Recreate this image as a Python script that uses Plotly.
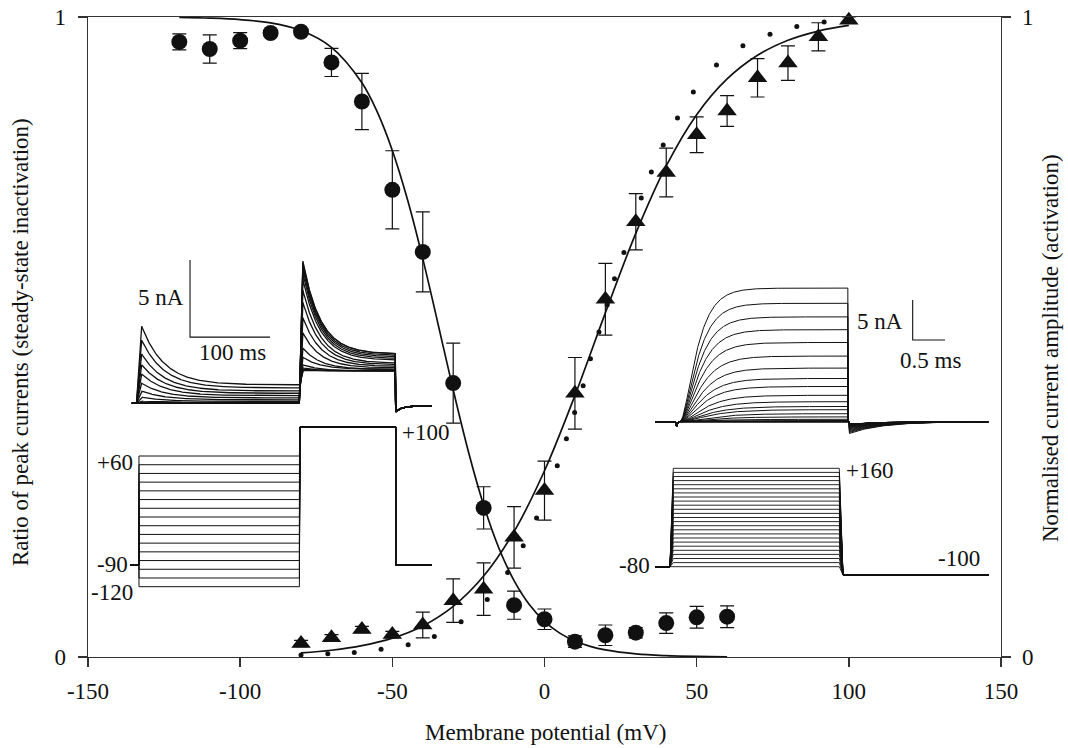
import numpy as np
import plotly.graph_objects as go

# ---------------- main chart data ----------------
inact_mv = [-120, -110, -100, -90, -80, -70, -60, -50, -40, -30, -20, -10, 0, 10, 20, 30, 40, 50, 60]
inact_ratio = [0.961, 0.950, 0.963, 0.975, 0.977, 0.929, 0.868, 0.730, 0.633, 0.428, 0.233, 0.081,
               0.059, 0.024, 0.034, 0.038, 0.053, 0.062, 0.063]
inact_err = [0.0125, 0.022, 0.0125, 0.005, 0.005, 0.022, 0.044, 0.061, 0.0625, 0.0625, 0.033, 0.022,
             0.016, 0.009, 0.016, 0.008, 0.016, 0.017, 0.017]

act_mv = [-80, -70, -60, -50, -40, -30, -20, -10, 0, 10, 20, 30, 40, 50, 60, 70, 80, 90, 100]
act_amp = [0.021, 0.030, 0.043, 0.035, 0.050, 0.088, 0.106, 0.187, 0.260, 0.412, 0.559, 0.680,
           0.757, 0.816, 0.853, 0.905, 0.928, 0.969, 0.995]
act_err = [0.005, 0.005, 0.005, 0.005, 0.020, 0.034, 0.041, 0.048, 0.046, 0.056, 0.056, 0.044,
           0.038, 0.028, 0.024, 0.030, 0.027, 0.022, 0.005]

dots_mv = [-80.0, -71.2, -62.5, -53.7, -44.8, -36.2, -27.4, -18.8, -12.1, -7.0, -2.6, 4.2, 7.2, 9.9,
           12.7, 15.1, 17.9, 20.6, 23.0, 26.1, 31.8, 35.1, 39.0, 43.7, 48.9, 56.5, 65.2, 74.1, 82.9, 91.9]
dots_amp = [0.003, 0.005, 0.007, 0.012, 0.019, 0.032, 0.055, 0.090, 0.132, 0.174, 0.217, 0.299, 0.341,
            0.382, 0.424, 0.466, 0.508, 0.550, 0.591, 0.632, 0.717, 0.758, 0.800, 0.842, 0.883, 0.925,
            0.955, 0.973, 0.985, 0.992]

inact_fit_mv = [-120, -110, -100, -90, -80, -70, -60, -55, -50, -45, -40, -35, -30, -25, -20, -15, -10,
                -5, 0, 5, 10, 15, 20, 30, 40, 50, 60]
inact_fit = [0.9992, 0.9982, 0.9959, 0.9907, 0.9788, 0.9526, 0.8972, 0.852, 0.7914, 0.7144, 0.6225,
             0.5208, 0.4174, 0.3208, 0.2375, 0.1703, 0.1192, 0.0819, 0.0556, 0.0373, 0.0249, 0.0166,
             0.0110, 0.0048, 0.0021, 0.0009, 0.0004]

act_fit_mv = [-80, -70, -60, -50, -40, -30, -20, -10, 0, 10, 20, 30, 40, 50, 60, 70, 80, 90, 100]
act_fit = [0.0063, 0.0106, 0.0177, 0.0294, 0.0486, 0.0792, 0.1265, 0.1960, 0.2910, 0.4086, 0.5377,
           0.6619, 0.7673, 0.8474, 0.9032, 0.9402, 0.9636, 0.9780, 0.9868]

x_ticks = [-150, -100, -50, 0, 50, 100, 150]
x_tick_text = ["-150", "-100", "-50", "0", "50", "100", "150"]
y_ticks = [0, 1]
y_tick_text = ["0", "1"]
x_title = "Membrane potential (mV)"
y_title_left = "Ratio of peak currents (steady-state inactivation)"
y_title_right = "Normalised current amplitude (activation)"

# ---------------- inset data (illustrative recordings) ----------------
# left: inactivation protocol (prepulse sweeps, index 0 = -120 mV ... 15 = +60 mV)
L_PRE_MV = [-120, -108, -96, -84, -72, -60, -48, -36, -24, -12, 0, 12, 24, 36, 48, 60]
L_PRE_PEAK = [0, 0, 0, 0, 0, 0, 0.05, 0.15, 0.4, 0.8, 1.3, 1.9, 2.5, 3.2, 4.1, 5.0]
L_PRE_SS = [0, 0, 0, 0, 0, 0, 0.02, 0.05, 0.12, 0.22, 0.35, 0.5, 0.65, 0.8, 1.0, 1.2]
L_TEST_TR = [6.1, 6.0, 5.9, 5.8, 5.6, 5.3, 4.8, 4.1, 3.2, 2.3, 1.4, 0.8, 0.4, 0.2, 0.1, 0.05]
L_TEST_SS = [3.2, 3.2, 3.1, 3.0, 2.9, 2.8, 2.6, 2.5, 2.4, 2.3, 2.2, 2.2, 2.1, 2.1, 2.1, 2.1]
L_HOLD_MV, L_TEST_MV = -90, 100
# right: activation protocol (steps, index 0 = -80 mV ... 24 = +160 mV)
R_STEP_MV = [-80, -70, -60, -50, -40, -30, -20, -10, 0, 10, 20, 30, 40, 50, 60, 70, 80, 90, 100,
             110, 120, 130, 140, 150, 160]
R_AMP = [0, 0, 0, 0, 0, 0.02, 0.05, 0.1, 0.15, 0.3, 0.6, 1.0, 1.5, 1.9, 2.5, 3.3, 4.4, 5.4, 6.7,
         8.2, 9.9, 11.5, 13.1, 14.8, 16.7]
R_TAU = [0.45, 0.45, 0.45, 0.45, 0.45, 0.45, 0.45, 0.45, 0.44, 0.42, 0.40, 0.38, 0.36, 0.34, 0.32,
         0.30, 0.28, 0.27, 0.26, 0.25, 0.24, 0.23, 0.22, 0.21, 0.20]
R_HOLD_MV, R_POST_MV = -80, -100

FONT = "Liberation Serif"
FS = 23
BLACK = "#111111"

# ---------------- geometry (page pixels; page body margin removed by post_script) ----------------
BODY = 0
W, H = 1068 - BODY, 748 - BODY
ML, MR, MT, MB = 88 - BODY, 67, 17 - BODY, 91
PW, PH = W - ML - MR, H - MT - MB
PL, PB = BODY + ML, BODY + MT + PH   # plot left / bottom in page pixels


def dom_x(p0, p1):
    return [(p0 - PL) / PW, (p1 - PL) / PW]


def dom_y(top, bot):
    return [(PB - bot) / PH, (PB - top) / PH]


def rng_x(p0, p1, ox, sx):
    return [(p0 - ox) / sx, (p1 - ox) / sx]


def rng_y(top, bot, oy, sy):
    return [(oy - bot) / sy, (oy - top) / sy]


# inset mappings (origin page px, px per unit)
LX_O, LX_S = 131.7, 0.8        # left insets: ms
LI_O, LI_S = 403.3, 15.4       # left current: nA
LV_O, LV_S = 499.57, 0.7261    # left protocol: mV
RX_O, RX_S = 655.0, 64.6       # right insets: ms
RI_O, RI_S = 421.7, 8.0        # right current: nA
RV_O, RV_S = 533.9, 0.41       # right protocol: mV


def nan_join(xs, ys):
    X, Y = [], []
    for a, b in zip(xs, ys):
        X.extend(list(a) + [None])
        Y.extend(list(b) + [None])
    return X, Y


# ---- left current traces ----
L_T = np.arange(0, 375.01, 0.5)
lx, ly = [], []
for p1, s1, a2, s2 in zip(L_PRE_PEAK, L_PRE_SS, L_TEST_TR, L_TEST_SS):
    t = L_T
    y = np.zeros_like(t)
    m = (t >= 6) & (t < 12.5)
    y[m] = p1 * (t[m] - 6) / 6.5
    m = (t >= 12.5) & (t < 209.6)
    y[m] = s1 + (p1 - s1) * np.exp(-(t[m] - 12.5) / 28)
    pre_end = s1 + (p1 - s1) * np.exp(-(209.6 - 12.5) / 28)
    m = (t >= 209.6) & (t < 213.75)
    y[m] = pre_end + (s2 + a2 - pre_end) * (t[m] - 209.6) / 4.15
    m = (t >= 213.75) & (t < 330)
    y[m] = s2 + a2 * np.exp(-(t[m] - 213.75) / 22)
    m = t >= 330
    y[m] = -0.17 - 0.38 * np.exp(-(t[m] - 330) / 8)
    lx.append(t)
    ly.append(y)
LCX, LCY = nan_join(lx, ly)

# ---- left protocol ----
px_, py_ = [], []
for v in L_PRE_MV:
    px_.append([-2.1, 9.1, 9.1, 209.6, 210.4, 330, 330, 375])
    py_.append([L_HOLD_MV, L_HOLD_MV, v, v, L_TEST_MV, L_TEST_MV, L_HOLD_MV, L_HOLD_MV])
LPX, LPY = nan_join(px_, py_)

# ---- right current traces ----
R_T = np.arange(0, 5.161, 0.005)
rx, ry = [], []
for a, tau in zip(R_AMP, R_TAU):
    t = R_T
    y = np.zeros_like(t)
    m = (t >= 0.387) & (t < 2.99)
    y[m] = a * (1 - np.exp(-(t[m] - 0.387) / tau)) ** 2
    m = t >= 3.01
    y[m] = -(0.07 * a + 0.3) * np.exp(-(t[m] - 3.01) / 0.5)
    y = y - 0.6 * np.exp(-((t - 0.336) / 0.012) ** 2)
    rx.append(t)
    ry.append(y)
RCX, RCY = nan_join(rx, ry)

# ---- right protocol ----
qx, qy = [], []
for v in R_STEP_MV:
    qx.append([0, 0.232, 0.283, 2.853, 2.910, 5.16])
    qy.append([R_HOLD_MV, R_HOLD_MV, v, v, R_POST_MV, R_POST_MV])
RPX, RPY = nan_join(qx, qy)

fig = go.Figure()

# main fits
fig.add_trace(go.Scatter(x=inact_fit_mv, y=inact_fit, mode="lines", line=dict(color=BLACK, width=1.7, shape="spline"),
                         showlegend=False, hoverinfo="skip"))
fig.add_trace(go.Scatter(x=act_fit_mv, y=act_fit, mode="lines", yaxis="y2",
                         line=dict(color=BLACK, width=1.7, shape="spline"), showlegend=False, hoverinfo="skip"))
# data
err_style = dict(type="data", thickness=1.2, width=7, color=BLACK)
fig.add_trace(go.Scatter(x=inact_mv, y=inact_ratio, mode="markers", cliponaxis=False,
                         error_y=dict(array=inact_err, **err_style),
                         marker=dict(symbol="circle", size=16, color=BLACK), showlegend=False))
fig.add_trace(go.Scatter(x=act_mv, y=act_amp, mode="markers", yaxis="y2", cliponaxis=False,
                         error_y=dict(array=act_err, **err_style),
                         marker=dict(symbol="triangle-up", size=17, color=BLACK), showlegend=False))
fig.add_trace(go.Scatter(x=dots_mv, y=dots_amp, mode="markers", yaxis="y2", cliponaxis=False,
                         marker=dict(symbol="circle", size=5, color=BLACK), showlegend=False))

# insets
fig.add_trace(go.Scatter(x=LCX, y=LCY, xaxis="x3", yaxis="y3", mode="lines",
                         line=dict(color=BLACK, width=1.3), showlegend=False, hoverinfo="skip"))
fig.add_trace(go.Scatter(x=[72.9, 72.9, 172.9], y=[9.3, 4.3, 4.3], xaxis="x3", yaxis="y3", mode="lines",
                         line=dict(color=BLACK, width=1.1), showlegend=False, hoverinfo="skip"))
fig.add_trace(go.Scatter(x=LPX, y=LPY, xaxis="x4", yaxis="y4", mode="lines",
                         line=dict(color=BLACK, width=1.0), showlegend=False, hoverinfo="skip"))
fig.add_trace(go.Scatter(x=RCX, y=RCY, xaxis="x5", yaxis="y5", mode="lines",
                         line=dict(color=BLACK, width=1.0), showlegend=False, hoverinfo="skip"))
fig.add_trace(go.Scatter(x=[3.989, 3.989, 4.489], y=[15.21, 10.21, 10.21], xaxis="x5", yaxis="y5", mode="lines",
                         line=dict(color=BLACK, width=1.1), showlegend=False, hoverinfo="skip"))
fig.add_trace(go.Scatter(x=RPX, y=RPY, xaxis="x6", yaxis="y6", mode="lines",
                         line=dict(color=BLACK, width=0.9), showlegend=False, hoverinfo="skip"))

axis_line = dict(showline=True, linecolor="#333333", linewidth=1.4, showgrid=False, zeroline=False,
                 ticks="outside", ticklen=9, tickwidth=1.4, tickcolor="#333333", automargin=False,
                 ticklabeloverflow="allow", tickfont=dict(family=FONT, size=FS, color=BLACK))
hidden = dict(visible=False, showgrid=False, zeroline=False, fixedrange=True, automargin=False)

fig.update_layout(
    template="none",
    width=W, height=H, autosize=False,
    margin=dict(l=ML, r=MR, t=MT, b=MB, autoexpand=False),
    paper_bgcolor="white", plot_bgcolor="rgba(0,0,0,0)",
    showlegend=False, hovermode=False,
    font=dict(family=FONT, size=FS, color=BLACK),
    xaxis=dict(range=[-150, 150], tickvals=x_ticks, ticktext=x_tick_text, mirror=True,
               ticklabelstandoff=4, **axis_line),
    yaxis=dict(range=[0, 1], tickvals=y_ticks, ticktext=y_tick_text, ticklabelstandoff=7, **axis_line),
    yaxis2=dict(range=[0, 1], tickvals=y_ticks, ticktext=y_tick_text, overlaying="y", side="right",
                ticklabelstandoff=6, **axis_line),
    xaxis3=dict(domain=dom_x(125, 440), range=rng_x(125, 440, LX_O, LX_S), anchor="y3", **hidden),
    yaxis3=dict(domain=dom_y(245, 425), range=rng_y(245, 425, LI_O, LI_S), anchor="x3", **hidden),
    xaxis4=dict(domain=dom_x(125, 440), range=rng_x(125, 440, LX_O, LX_S), anchor="y4", **hidden),
    yaxis4=dict(domain=dom_y(425, 605), range=rng_y(425, 605, LV_O, LV_S), anchor="x4", **hidden),
    xaxis5=dict(domain=dom_x(645, 1000), range=rng_x(645, 1000, RX_O, RX_S), anchor="y5", **hidden),
    yaxis5=dict(domain=dom_y(270, 442), range=rng_y(270, 442, RI_O, RI_S), anchor="x5", **hidden),
    xaxis6=dict(domain=dom_x(645, 1000), range=rng_x(645, 1000, RX_O, RX_S), anchor="y6", **hidden),
    yaxis6=dict(domain=dom_y(445, 595), range=rng_y(445, 595, RV_O, RV_S), anchor="x6", **hidden),
)

tf = dict(family=FONT, size=FS, color=BLACK)
ann = [
    dict(text=x_title, xref="paper", yref="paper", x=dom_x(545, 545)[0], y=dom_y(732, 732)[0],
         xanchor="center", yanchor="middle"),
    dict(text=y_title_left, xref="paper", yref="paper", x=dom_x(20, 20)[0], y=dom_y(342, 342)[0],
         textangle=-90, xanchor="center", yanchor="middle"),
    dict(text=y_title_right, xref="paper", yref="paper", x=dom_x(1050, 1050)[0], y=dom_y(348, 348)[0],
         textangle=-90, xanchor="center", yanchor="middle"),
    # left current inset
    dict(text="5 nA", xref="x3", yref="y3", x=67.9, y=6.84, xanchor="right", yanchor="middle"),
    dict(text="100 ms", xref="x3", yref="y3", x=126, y=3.27, xanchor="center", yanchor="middle"),
    # left protocol
    dict(text="+60", xref="x4", yref="y4", x=4.1, y=51.7, xanchor="right", yanchor="middle"),
    dict(text="-90", xref="x4", yref="y4", x=-2.1, y=-90, xanchor="right", yanchor="middle"),
    dict(text="-120", xref="x4", yref="y4", x=4.1, y=-127.3, xanchor="right", yanchor="middle"),
    dict(text="+100", xref="x4", yref="y4", x=335.4, y=91.7, xanchor="left", yanchor="middle"),
    # right current inset
    dict(text="5 nA", xref="x5", yref="y5", x=3.87, y=12.5, xanchor="right", yanchor="middle"),
    dict(text="0.5 ms", xref="x5", yref="y5", x=4.269, y=7.71, xanchor="center", yanchor="middle"),
    # right protocol
    dict(text="-80", xref="x6", yref="y6", x=-0.046, y=-76, xanchor="right", yanchor="middle"),
    dict(text="+160", xref="x6", yref="y6", x=2.926, y=155.8, xanchor="left", yanchor="middle"),
    dict(text="-100", xref="x6", yref="y6", x=5.057, y=-58.8, xanchor="right", yanchor="middle"),
]
for a in ann:
    a.setdefault("showarrow", False)
    a.setdefault("font", tf)
fig.update_layout(annotations=ann)

fig.write_html("out.html", config={"displayModeBar": False, "staticPlot": True},
               post_script="document.body.style.margin='0px';")
